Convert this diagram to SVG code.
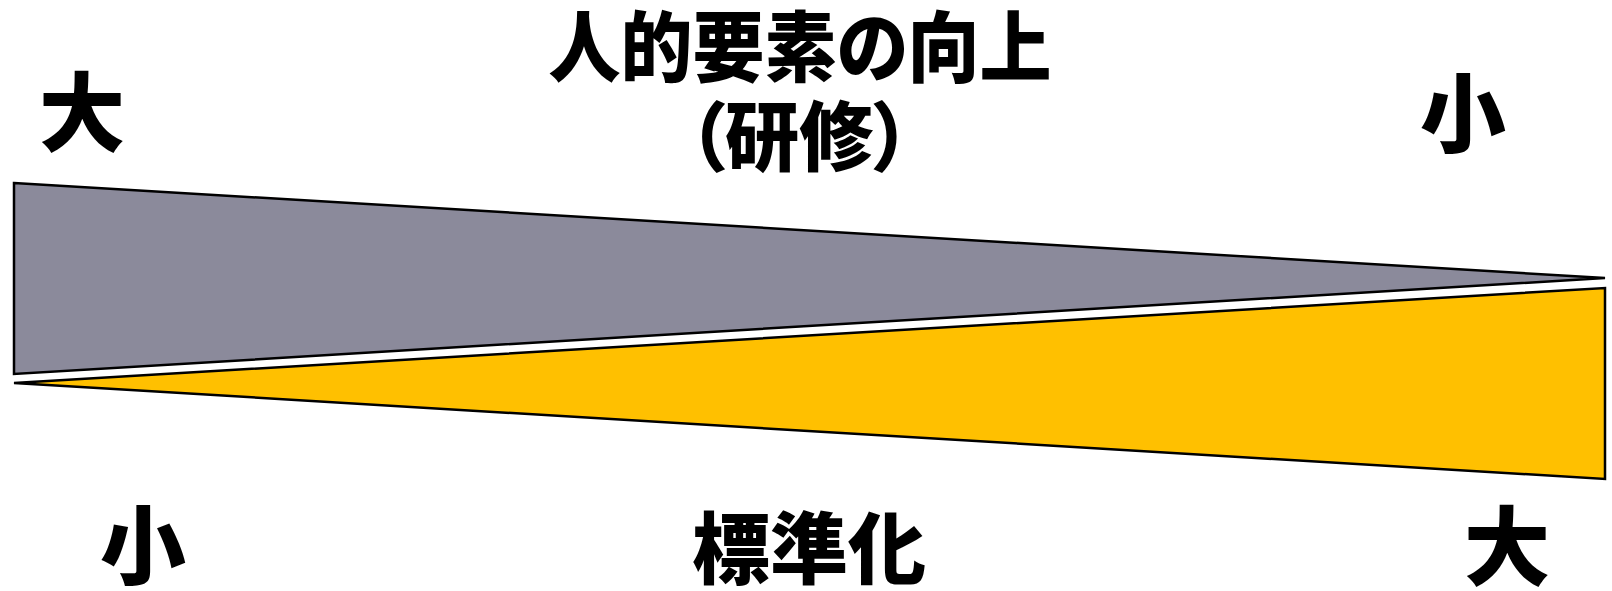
<svg xmlns="http://www.w3.org/2000/svg" width="1612" height="591" viewBox="0 0 1612 591">
<style>
.wedge{stroke:#000;stroke-width:2.5;stroke-linejoin:miter}
.lbl{font-family:"Noto Sans CJK JP","Noto Sans CJK SC",sans-serif;font-weight:900;fill:#000;font-feature-settings:"palt"}
</style>
<rect width="1612" height="591" fill="#fff"/>
<g id="connectors"/>
<g id="wedge-human">
<polygon class="wedge" points="14,183 1605,278 14,374" fill="#8B8A9B"/>
</g>
<g id="wedge-standard">
<polygon class="wedge" points="14,383 1605,288 1605,479" fill="#FFC000"/>
</g>
<g id="title-top">
<text class="lbl" x="800" y="76" font-size="72" text-anchor="middle" transform="translate(0,76) scale(1,1.08) translate(0,-76)">人的要素の向上</text>
<text class="lbl" x="800" y="165" font-size="72" text-anchor="middle" transform="translate(0,165) scale(1.03,1.05) translate(-24,-165)">（研修）</text>
</g>
<g id="title-bottom">
<text class="lbl" x="809" y="578" font-size="78" text-anchor="middle">標準化</text>
</g>
<g id="label-tl"><text class="lbl" x="82" y="145" font-size="86" text-anchor="middle">大</text></g>
<g id="label-tr"><text class="lbl" x="1463" y="146" font-size="86" text-anchor="middle">小</text></g>
<g id="label-bl"><text class="lbl" x="143" y="578" font-size="86" text-anchor="middle">小</text></g>
<g id="label-br"><text class="lbl" x="1507" y="579" font-size="86" text-anchor="middle">大</text></g>
</svg>
